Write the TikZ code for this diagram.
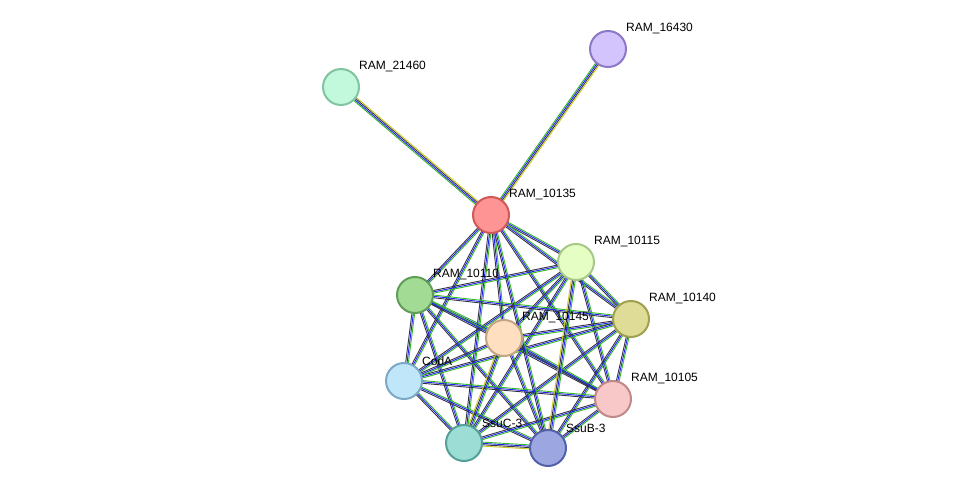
\documentclass[tikz,border=0pt]{standalone}
\usepackage{fontspec}
\setmainfont{Liberation Sans}
\usetikzlibrary{calc}
\pgfdeclarelayer{bg}
\pgfsetlayers{bg,main}
\definecolor{eg}{HTML}{33BB22}
\definecolor{eb}{HTML}{2222EE}
\definecolor{ek}{HTML}{333344}
\definecolor{ey}{HTML}{C8C820}
\tikzset{
 prot/.style={circle,minimum size=36pt,inner sep=0pt,line width=2pt},
 lab/.style={anchor=west,font=\fontsize{12}{14}\selectfont,inner sep=0pt,text=black},
 ed/.style={line width=0.9pt}
}
\newcommand\mkprot[5]{%
 \definecolor{f#1}{HTML}{#4}\definecolor{d#1}{HTML}{#5}%
 \node[prot,fill=f#1,draw=d#1] (#1) at (#2,#3) {};}
\newcommand\edg[2]{%
 \draw[ed,eg] ($(#1)!2pt!90:(#2)$) -- ($(#2)!2pt!-90:(#1)$);
 \draw[ed,eb] ($(#1)!0.7pt!90:(#2)$) -- ($(#2)!0.7pt!-90:(#1)$);
 \draw[ed,ek] ($(#1)!-0.7pt!90:(#2)$) -- ($(#2)!-0.7pt!-90:(#1)$);
}
\newcommand\edy[2]{%
 \edg{#1}{#2}
 \draw[ed,ey] ($(#1)!-2pt!90:(#2)$) -- ($(#2)!-2pt!-90:(#1)$);
}
\begin{document}
\begin{tikzpicture}[x=1pt,y=-1pt]
\useasboundingbox (0,0) rectangle (976,494);
\mkprot{n16430}{608}{49}{D4C4FE}{8C78C4}
\mkprot{n21460}{341}{87}{C2F8DC}{80C4A0}
\mkprot{n10135}{491}{215}{FF9494}{D05858}
\mkprot{n10115}{576}{262}{E4FEC4}{A8C888}
\mkprot{n10110}{415}{295}{A2DC94}{609E58}
\mkprot{n10140}{631}{319}{DEDC96}{A0A050}
\mkprot{n10145}{504}{338}{FEE0C0}{C4A484}
\mkprot{nCodA}{404}{381}{C0E6FA}{7CA8C8}
\mkprot{n10105}{613}{399}{F8C8C8}{C08888}
\mkprot{nSsuC}{464}{443}{9CDED6}{54A098}
\mkprot{nSsuB}{548}{448}{9CA6E0}{5460A8}
\begin{pgfonlayer}{bg}
\edy{n10135}{n16430}
\edy{n10135}{n21460}
\foreach \a/\b in {n10135/n10115,n10135/n10110,n10135/n10140,n10135/n10145,n10135/nCodA,n10135/n10105,n10135/nSsuC,
 n10115/n10110,n10115/n10140,n10115/n10145,n10115/nCodA,n10115/n10105,n10115/nSsuC,
 n10110/n10140,n10110/n10145,n10110/nCodA,n10110/n10105,n10110/nSsuC,n10110/nSsuB,
 n10140/n10145,n10140/nCodA,n10140/n10105,n10140/nSsuC,n10140/nSsuB,
 n10145/nCodA,n10145/n10105,n10145/nSsuB,
 nCodA/n10105,nCodA/nSsuC,nCodA/nSsuB,
 n10105/nSsuC,n10105/nSsuB}
 {\edg{\a}{\b}}
\edg{n10135}{nSsuB}
\edy{n10115}{nSsuB}
\edy{n10145}{nSsuC}
\edy{nSsuC}{nSsuB}
\end{pgfonlayer}
\node[lab] (l16430) at (626,29) {RAM\_16430};
\node[lab] (l21460) at (359,67) {RAM\_21460};
\node[lab] (l10135) at (509,195) {RAM\_10135};
\node[lab] (l10115) at (594,242) {RAM\_10115};
\node[lab] (l10110) at (433,275) {RAM\_10110};
\node[lab] (l10140) at (649,299) {RAM\_10140};
\node[lab] (l10145) at (522,318) {RAM\_10145};
\node[lab] (lCodA) at (422,361) {CodA};
\node[lab] (l10105) at (631,379) {RAM\_10105};
\node[lab] (lSsuC) at (482,423) {SsuC-3};
\node[lab] (lSsuB) at (566,428) {SsuB-3};
\end{tikzpicture}
\end{document}
